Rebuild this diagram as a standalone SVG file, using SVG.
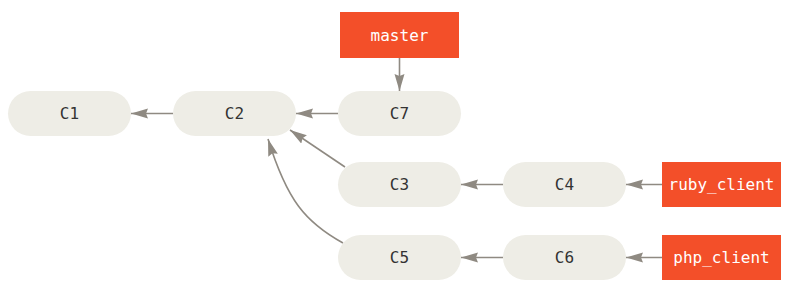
<svg xmlns="http://www.w3.org/2000/svg" width="800" height="304" viewBox="0 0 800 304">
<style>
.commit{fill:#eeede6}
.ref{fill:#f34f29}
.ct{font-family:"DejaVu Sans Mono","Liberation Mono",monospace;font-size:16px;fill:#333;text-anchor:middle;dominant-baseline:central}
.rt{font-family:"DejaVu Sans Mono","Liberation Mono",monospace;font-size:16px;fill:#fff;text-anchor:middle;dominant-baseline:central}
.edge{fill:none;stroke:#8f8a82;stroke-width:1.6}
</style>
<defs>
<marker id="ah" markerUnits="userSpaceOnUse" markerWidth="18" markerHeight="12" refX="17" refY="5" orient="auto">
<path d="M0,0 L17,5 L0,10 L2,5 z" fill="#8f8a82"/>
</marker>
</defs>
<rect width="800" height="304" fill="#fff"/>
<g id="connectors">
<path class="edge" marker-end="url(#ah)" d="M173,113.5 L131,113.5"/>
<path class="edge" marker-end="url(#ah)" d="M338,113.5 L296,113.5"/>
<path class="edge" marker-end="url(#ah)" d="M399.5,58 L399.5,91"/>
<path class="edge" marker-end="url(#ah)" d="M345,167 L290,130"/>
<path class="edge" marker-end="url(#ah)" d="M343,243 C305,222 287,200 268,139"/>
<path class="edge" marker-end="url(#ah)" d="M503,184.5 L461,184.5"/>
<path class="edge" marker-end="url(#ah)" d="M662,184.5 L626,184.5"/>
<path class="edge" marker-end="url(#ah)" d="M503,257.5 L461,257.5"/>
<path class="edge" marker-end="url(#ah)" d="M662,257.5 L626,257.5"/>
</g>
<g id="C1"><rect class="commit" x="8" y="91" width="123" height="45" rx="22.5"/><text class="ct" x="69.5" y="113.5">C1</text></g>
<g id="C2"><rect class="commit" x="173" y="91" width="123" height="45" rx="22.5"/><text class="ct" x="234.5" y="113.5">C2</text></g>
<g id="C7"><rect class="commit" x="338" y="91" width="123" height="45" rx="22.5"/><text class="ct" x="399.5" y="113.5">C7</text></g>
<g id="C3"><rect class="commit" x="338" y="162" width="123" height="45" rx="22.5"/><text class="ct" x="399.5" y="184.5">C3</text></g>
<g id="C4"><rect class="commit" x="503" y="162" width="123" height="45" rx="22.5"/><text class="ct" x="564.5" y="184.5">C4</text></g>
<g id="C5"><rect class="commit" x="338" y="235" width="123" height="45" rx="22.5"/><text class="ct" x="399.5" y="257.5">C5</text></g>
<g id="C6"><rect class="commit" x="503" y="235" width="123" height="45" rx="22.5"/><text class="ct" x="564.5" y="257.5">C6</text></g>
<g id="master"><rect class="ref" x="340" y="12" width="119" height="46"/><text class="rt" x="399.5" y="35">master</text></g>
<g id="ruby_client"><rect class="ref" x="662" y="162" width="119" height="45"/><text class="rt" x="721.5" y="184.5">ruby_client</text></g>
<g id="php_client"><rect class="ref" x="662" y="235" width="119" height="45"/><text class="rt" x="721.5" y="257.5">php_client</text></g>
</svg>
